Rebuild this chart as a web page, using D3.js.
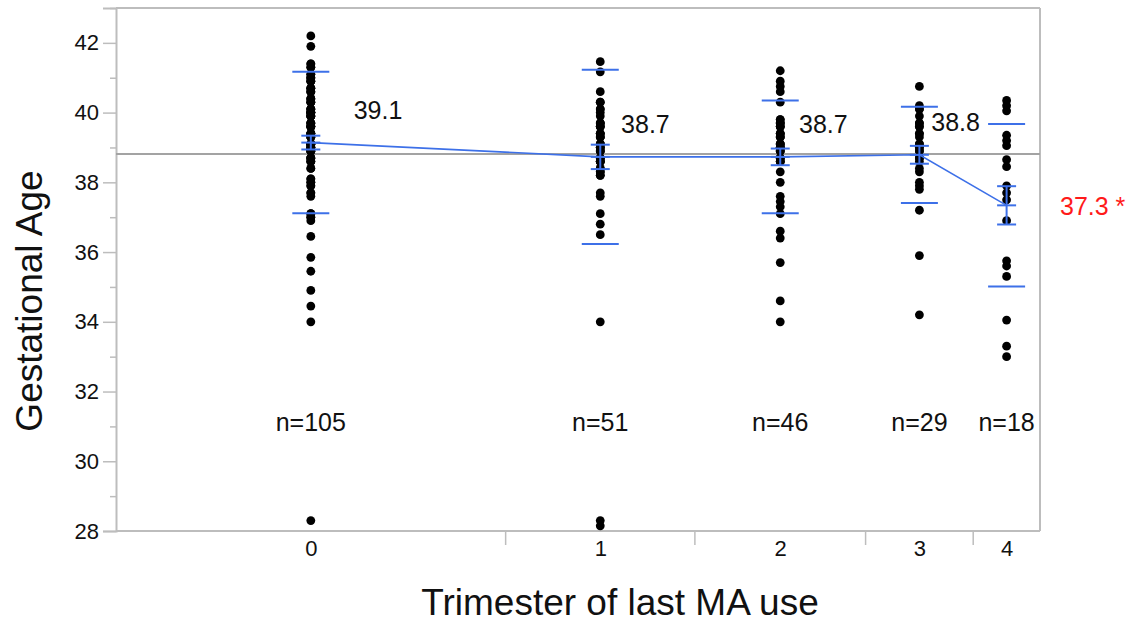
<!DOCTYPE html>
<html>
<head>
<meta charset="utf-8">
<script src="https://cdn.jsdelivr.net/npm/d3@7"></script>
<style>
  body { margin: 0; background: #fff; }
  svg text { font-family: "Liberation Sans", Arial, Helvetica, sans-serif; }
</style>
</head>
<body>
<div id="chart"></div>
<script>
// groups (trimester of last MA use)
const groups = ["0", "1", "2", "3", "4"];

const ages0 = [
  42.2, 41.9,
  41.4, 41.4, 41.3, 41.3, 41.1, 41.1, 41.0, 41.0, 41.0, 40.9, 40.9, 40.9,
  40.7, 40.7, 40.7, 40.6, 40.6, 40.6, 40.4, 40.4, 40.4, 40.3, 40.3, 40.3,
  40.1, 40.1, 40.1, 40.1, 40.0, 40.0, 40.0, 40.0, 40.0, 40.0,
  39.9, 39.9, 39.9, 39.9, 39.9, 39.7, 39.7, 39.7, 39.7,
  39.6, 39.6, 39.6, 39.6, 39.6, 39.4, 39.4, 39.4, 39.4, 39.4,
  39.3, 39.3, 39.3, 39.3, 39.1, 39.1, 39.1, 39.1, 39.1, 39.1,
  39.0, 39.0, 39.0, 39.0, 39.0, 38.9, 38.9, 38.9, 38.9, 38.9,
  38.7, 38.7, 38.7, 38.7, 38.6, 38.6, 38.6, 38.4, 38.4,
  38.1, 38.1, 38.0, 38.0, 37.9, 37.9, 37.7, 37.7, 37.6,
  37.1, 37.1, 37.0, 37.0, 36.9,
  36.45, 35.85, 35.45, 34.9, 34.45, 34.0, 28.3
];
const ages1 = [
  41.46, 41.17, 40.6,
  40.3, 40.3, 40.1, 40.1, 40.0, 39.9, 39.7, 39.7, 39.7, 39.6, 39.6, 39.6,
  39.4, 39.4, 39.4, 39.3, 39.3, 39.3, 39.1, 39.1, 39.1, 39.0, 39.0, 39.0,
  38.9, 38.9, 38.9, 38.7, 38.7, 38.7, 38.6, 38.6, 38.6, 38.6,
  38.4, 38.4, 38.3, 38.3, 38.2, 38.2,
  37.7, 37.6, 37.1, 36.8, 36.5, 34.0, 28.3, 28.15
];
const ages2 = [
  41.2, 40.9, 40.75, 40.6, 40.3,
  39.8, 39.8, 39.7, 39.7, 39.7, 39.6, 39.6, 39.6, 39.4, 39.4, 39.4,
  39.3, 39.3, 39.3, 39.1, 39.1, 39.1, 39.0, 39.0, 39.0, 39.0,
  38.9, 38.9, 38.9, 38.7, 38.7, 38.7, 38.6, 38.6, 38.6,
  38.3, 38.0, 37.6, 37.45, 37.3, 37.1, 36.6, 36.4, 35.7, 34.6, 34.0
];
const ages3 = [
  40.75, 40.2, 40.1, 40.1, 39.9, 39.7, 39.7, 39.6, 39.6, 39.4, 39.4, 39.3,
  39.1, 39.1, 39.0, 39.0, 38.9, 38.9, 38.7, 38.7, 38.6, 38.4, 38.3,
  38.0, 37.9, 37.8, 37.2, 35.9, 34.2
];
const ages4 = [
  40.35, 40.2, 40.05, 39.35, 39.2, 39.05, 38.65, 38.45, 37.9, 37.7, 37.5,
  36.9, 35.75, 35.6, 35.3, 34.05, 33.3, 33.0
];
const ages = [ages0, ages1, ages2, ages3, ages4];

// group summaries as shown by the chart
const means = [39.14, 38.73, 38.73, 38.79, 37.34];
const sds = [2.03, 2.5, 1.62, 1.38, 2.33];
const flagged = [false, false, false, false, true];

// axis ticks
const yTicks = [28, 30, 32, 34, 36, 38, 40, 42];
const yMinor = [29, 31, 33, 35, 37, 39, 41, 43];

const width = 1139, height = 622;
const plotLeft = 116, plotRight = 1040, plotTop = 8, plotBottom = 531;
const blue = "#3d70e8", axisGrey = "#bdbdbd";

const svg = d3.select("#chart").append("svg")
  .attr("width", width)
  .attr("height", height);

const counts = ages.map(a => a.length);
const total = d3.sum(counts);
// band edges, in cumulative observation counts: [0, 105, 156, ...]
const edges = Array.from(d3.cumsum([0, ...counts]));

const x = d3.scaleLinear().domain([0, total]).range([plotLeft, plotRight]);
const y = d3.scaleLinear().domain([28, 43]).range([plotBottom, plotTop]);
const centers = groups.map((g, i) => x((edges[i] + edges[i + 1]) / 2));

// frame
svg.append("line")
  .attr("x1", plotLeft).attr("x2", plotRight).attr("y1", plotTop).attr("y2", plotTop)
  .attr("stroke", axisGrey).attr("stroke-width", 2);
svg.append("line")
  .attr("x1", plotRight).attr("x2", plotRight).attr("y1", plotTop).attr("y2", plotBottom)
  .attr("stroke", axisGrey).attr("stroke-width", 2);
svg.append("line")
  .attr("x1", plotLeft).attr("x2", plotRight).attr("y1", plotBottom).attr("y2", plotBottom)
  .attr("stroke", axisGrey).attr("stroke-width", 2);

// y axis
const yAxis = svg.append("g")
  .attr("transform", "translate(" + plotLeft + ",0)")
  .call(d3.axisLeft(y).tickValues(yTicks).tickSize(13).tickPadding(4));
yAxis.select(".domain").attr("stroke", axisGrey).attr("stroke-width", 2);
yAxis.selectAll(".tick line").attr("stroke", axisGrey).attr("stroke-width", 1.5);
yAxis.selectAll(".tick text").style("font-size", "22px").attr("fill", "#111");

const yAxisMinor = svg.append("g")
  .attr("transform", "translate(" + plotLeft + ",0)")
  .call(d3.axisLeft(y).tickValues(yMinor).tickSize(6).tickFormat(""));
yAxisMinor.select(".domain").remove();
yAxisMinor.selectAll(".tick line").attr("stroke", axisGrey).attr("stroke-width", 1.5);

// x axis: group labels at the centre of each band, band widths follow n
const xCat = d3.scaleOrdinal().domain(groups).range(centers);
const xAxis = svg.append("g")
  .attr("transform", "translate(0," + plotBottom + ")")
  .call(d3.axisBottom(xCat).tickSize(0).tickPadding(9));
xAxis.select(".domain").remove();
xAxis.selectAll(".tick text").style("font-size", "22px").attr("fill", "#111");

svg.append("g")
  .selectAll("line")
  .data(edges.slice(1, -1))
  .join("line")
  .attr("x1", d => x(d)).attr("x2", d => x(d))
  .attr("y1", plotBottom).attr("y2", plotBottom + 14)
  .attr("stroke", axisGrey).attr("stroke-width", 1.5);

// grand mean
const grand = d3.sum(means.map((m, i) => m * counts[i])) / total;
svg.append("line")
  .attr("x1", plotLeft).attr("x2", plotRight)
  .attr("y1", y(grand)).attr("y2", y(grand))
  .attr("stroke", "#a3a3a3").attr("stroke-width", 2);

// points
groups.forEach((g, i) => {
  svg.append("g")
    .selectAll("circle")
    .data(ages[i])
    .join("circle")
    .attr("cx", centers[i])
    .attr("cy", d => y(d))
    .attr("r", 4.4)
    .attr("fill", "#000");
});

// line joining the means
svg.append("path")
  .datum(means)
  .attr("fill", "none")
  .attr("stroke", blue)
  .attr("stroke-width", 1.6)
  .attr("d", d3.line().x((d, i) => centers[i]).y(d => y(d)));

// std dev lines, mean error bars
groups.forEach((g, i) => {
  const cx = centers[i];
  const se = sds[i] / Math.sqrt(counts[i]);
  const gg = svg.append("g").attr("stroke", blue).attr("stroke-width", 2);
  [means[i] - sds[i], means[i] + sds[i]].forEach(v => {
    gg.append("line")
      .attr("x1", cx - 18.5).attr("x2", cx + 18.5)
      .attr("y1", y(v)).attr("y2", y(v));
  });
  [means[i] - se, means[i], means[i] + se].forEach(v => {
    gg.append("line")
      .attr("x1", cx - 9.5).attr("x2", cx + 9.5)
      .attr("y1", y(v)).attr("y2", y(v));
  });
  gg.append("line")
    .attr("x1", cx).attr("x2", cx)
    .attr("y1", y(means[i] - se)).attr("y2", y(means[i] + se));
});

// mean labels
groups.forEach((g, i) => {
  const bw = x(edges[i + 1]) - x(edges[i]);
  if (flagged[i]) {
    svg.append("text")
      .attr("x", plotRight + 20)
      .attr("y", y(means[i]))
      .attr("dy", "0.38em")
      .style("font-size", "25px")
      .attr("fill", "#ff1a1a")
      .text(means[i].toFixed(1) + " *");
  } else {
    svg.append("text")
      .attr("x", x(edges[i]) + 0.61 * bw)
      .attr("y", y(means[i]) - 24)
      .style("font-size", "25px")
      .attr("fill", "#111")
      .text(means[i].toFixed(1));
  }
});

// n labels
svg.append("g")
  .selectAll("text")
  .data(groups)
  .join("text")
  .attr("x", (d, i) => centers[i])
  .attr("y", 431)
  .attr("text-anchor", "middle")
  .style("font-size", "25px")
  .attr("fill", "#111")
  .text((d, i) => "n=" + counts[i]);

// axis titles
svg.append("text")
  .attr("x", 620)
  .attr("y", 615)
  .attr("text-anchor", "middle")
  .style("font-size", "37px")
  .attr("fill", "#111")
  .text("Trimester of last MA use");

svg.append("text")
  .attr("transform", "translate(42,301) rotate(-90)")
  .attr("text-anchor", "middle")
  .style("font-size", "37px")
  .attr("fill", "#111")
  .text("Gestational Age");
</script>
</body>
</html>
